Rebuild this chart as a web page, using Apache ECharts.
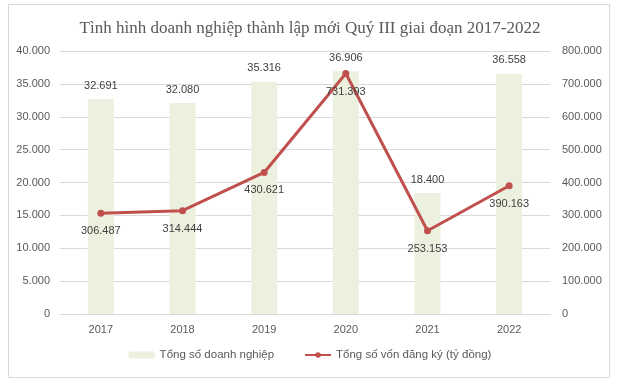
<!DOCTYPE html>
<html><head><meta charset="utf-8">
<script src="https://cdn.jsdelivr.net/npm/echarts@6/dist/echarts.min.js"></script>
<style>html,body{margin:0;padding:0;background:#fff}#c{width:620px;height:384px}</style>
</head><body><div id="c"></div>
<script>
const categories = ['2017','2018','2019','2020','2021','2022'];
const enterprises = [32691, 32080, 35316, 36906, 18400, 36558];
const capital = [306487, 314444, 430621, 731393, 253153, 390163];
const leftTicks = [0, 5000, 10000, 15000, 20000, 25000, 30000, 35000, 40000];
const rightTicks = [0, 100000, 200000, 300000, 400000, 500000, 600000, 700000, 800000];

function fmt(v){ return String(Math.round(v)).replace(/\B(?=(\d{3})+(?!\d))/g, '.'); }
const txt = '#595959';
const chart = echarts.init(document.getElementById('c'));
chart.setOption({
  animation: false,
  graphic: [{type:'rect', shape:{x:8.5,y:4.5,width:601,height:373}, style:{fill:'none', stroke:'#d9d9d9', lineWidth:1}}],
  title: {text:'Tình hình doanh nghiệp thành lập mới Quý III giai đoạn 2017-2022', left:'center', top:15,
    textStyle:{fontFamily:'Liberation Serif', fontSize:17, fontWeight:'normal', color:txt}},
  legend: {bottom:18, left:'center', itemGap:30, itemWidth:26, itemHeight:7,
    textStyle:{fontFamily:'Liberation Sans', fontSize:11.5, color:txt},
    data:[{name:'Tổng số doanh nghiệp', icon:'rect'}, {name:'Tổng số vốn đăng ký (tỷ đồng)'}]},
  grid: {left:60, right:70, top:51, bottom:70, containLabel:false},
  xAxis: {type:'category', data:categories,
    axisLine:{lineStyle:{color:'#d9d9d9'}}, axisTick:{show:false},
    axisLabel:{color:txt, fontFamily:'Liberation Sans', fontSize:11, margin:10}},
  yAxis: [
    {type:'value', min:leftTicks[0], max:leftTicks[leftTicks.length-1], interval:5000,
     axisLabel:{color:txt, fontFamily:'Liberation Sans', fontSize:11, margin:10, formatter:fmt},
     splitLine:{lineStyle:{color:'#d9d9d9'}}, axisLine:{show:false}, axisTick:{show:false}},
    {type:'value', min:rightTicks[0], max:rightTicks[rightTicks.length-1], interval:100000,
     axisLabel:{color:txt, fontFamily:'Liberation Sans', fontSize:11, margin:12, formatter:fmt},
     splitLine:{show:false}, axisLine:{show:false}, axisTick:{show:false}}
  ],
  series: [
    {name:'Tổng số doanh nghiệp', type:'bar', data:enterprises, barWidth:26, yAxisIndex:0,
     itemStyle:{color:'#EBF1DE'},
     label:{show:true, position:'top', distance:8, formatter:p=>fmt(p.value), color:'#404040', fontFamily:'Liberation Sans', fontSize:11}},
    {name:'Tổng số vốn đăng ký (tỷ đồng)', type:'line', data:capital, yAxisIndex:1,
     lineStyle:{color:'#C0504D', width:3}, itemStyle:{color:'#C0504D'},
     symbol:'circle', symbolSize:7,
     label:{show:true, position:'bottom', distance:9, formatter:p=>fmt(p.value), color:'#404040', fontFamily:'Liberation Sans', fontSize:11}}
  ]
});
</script></body></html>
